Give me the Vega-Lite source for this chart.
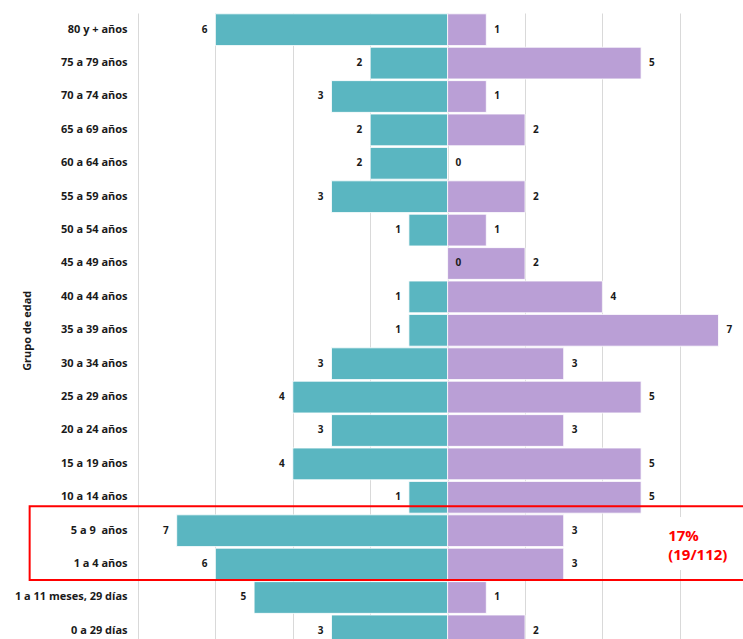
{
  "$schema": "https://vega.github.io/schema/vega-lite/v6.json",
  "autosize": {"type": "none"},
  "padding": {"left": 138, "top": 13, "right": 0, "bottom": 0},
  "width": 605,
  "height": 634.6,
  "background": "white",
  "config": {"view": {"stroke": null}, "font": "Open Sans"},
  "data": {"values": [
    {"grupo": "80 y + años", "masculino": 6, "femenino": 1},
    {"grupo": "75 a 79 años", "masculino": 2, "femenino": 5},
    {"grupo": "70 a 74 años", "masculino": 3, "femenino": 1},
    {"grupo": "65 a 69 años", "masculino": 2, "femenino": 2},
    {"grupo": "60 a 64 años", "masculino": 2, "femenino": 0},
    {"grupo": "55 a 59 años", "masculino": 3, "femenino": 2},
    {"grupo": "50 a 54 años", "masculino": 1, "femenino": 1},
    {"grupo": "45 a 49 años", "masculino": 0, "femenino": 2},
    {"grupo": "40 a 44 años", "masculino": 1, "femenino": 4},
    {"grupo": "35 a 39 años", "masculino": 1, "femenino": 7},
    {"grupo": "30 a 34 años", "masculino": 3, "femenino": 3},
    {"grupo": "25 a 29 años", "masculino": 4, "femenino": 5},
    {"grupo": "20 a 24 años", "masculino": 3, "femenino": 3},
    {"grupo": "15 a 19 años", "masculino": 4, "femenino": 5},
    {"grupo": "10 a 14 años", "masculino": 1, "femenino": 5},
    {"grupo": "5 a 9\u00a0 años", "masculino": 7, "femenino": 3},
    {"grupo": "1 a 4 años", "masculino": 6, "femenino": 3},
    {"grupo": "1 a 11 meses, 29 días", "masculino": 5, "femenino": 1},
    {"grupo": "0 a 29 días", "masculino": 3, "femenino": 2}
  ]},
  "layer": [
    {
      "layer": [
        {
          "mark": {"type": "bar", "color": "#5AB6C1", "stroke": "white", "strokeWidth": 0.8},
          "encoding": {
            "y": {
              "field": "grupo", "type": "nominal", "sort": null,
              "scale": {
                "domain": ["80 y + años", "75 a 79 años", "70 a 74 años", "65 a 69 años", "60 a 64 años", "55 a 59 años", "50 a 54 años", "45 a 49 años", "40 a 44 años", "35 a 39 años", "30 a 34 años", "25 a 29 años", "20 a 24 años", "15 a 19 años", "10 a 14 años", "5 a 9\u00a0 años", "1 a 4 años", "1 a 11 meses, 29 días", "0 a 29 días"],
                "paddingInner": 0.05, "paddingOuter": 0.025
              },
              "axis": {
                "title": "Grupo de edad", "titleFont": "Open Sans", "titleFontSize": 11, "titleFontWeight": "bold", "titleColor": "#1a1a1a",
                "titleX": -106,
                "labelFont": "Open Sans", "labelFontSize": 11, "labelFontWeight": "bold", "labelColor": "#1a1a1a",
                "labelPadding": 11, "ticks": false, "domain": false, "grid": false
              }
            },
            "x": {"field": "masculino", "type": "quantitative", "scale": {"domain": [-7.633, 8], "reverse": true, "nice": false, "zero": false}, "axis": null}
          }
        },
        {
          "transform": [{"filter": "datum.masculino > 0"}],
          "mark": {"type": "text", "align": "right", "baseline": "middle", "dx": -8, "fontSize": 10, "fontWeight": "bold", "color": "#1a1a1a"},
          "encoding": {
            "y": {"field": "grupo", "type": "nominal"},
            "x": {"field": "masculino", "type": "quantitative", "scale": {"domain": [-7.633, 8], "reverse": true, "nice": false, "zero": false}, "axis": null},
            "text": {"field": "masculino", "type": "quantitative"}
          }
        }
      ]
    },
    {
      "layer": [
        {
          "mark": {"type": "bar", "color": "#BA9FD6", "stroke": "white", "strokeWidth": 0.8},
          "encoding": {
            "y": {"field": "grupo", "type": "nominal"},
            "x": {
              "field": "femenino", "type": "quantitative",
              "scale": {"domain": [-8, 7.633], "nice": false, "zero": false},
              "axis": {"values": [-8, -6, -4, -2, 0, 2, 4, 6], "grid": true, "gridColor": "#d9d9d9", "gridWidth": 1, "labels": false, "ticks": false, "domain": false, "title": null}
            }
          }
        },
        {
          "mark": {"type": "text", "align": "left", "baseline": "middle", "dx": 8, "fontSize": 10, "fontWeight": "bold", "color": "#1a1a1a"},
          "encoding": {
            "y": {"field": "grupo", "type": "nominal"},
            "x": {"field": "femenino", "type": "quantitative"},
            "text": {"field": "femenino", "type": "quantitative"}
          }
        },
        {
          "transform": [{"filter": "datum.masculino == 0"}],
          "mark": {"type": "text", "align": "left", "baseline": "middle", "dx": 8, "fontSize": 10, "fontWeight": "bold", "color": "#1a1a1a"},
          "encoding": {
            "y": {"field": "grupo", "type": "nominal"},
            "x": {"field": "masculino", "type": "quantitative"},
            "text": {"field": "masculino", "type": "quantitative"}
          }
        },
        {
          "data": {"values": [{}]},
          "mark": {"type": "rect", "fill": "white"},
          "encoding": {
            "x": {"datum": 5.36, "type": "quantitative"},
            "x2": {"datum": 9},
            "y": {"datum": "5 a 9\u00a0 años", "type": "nominal", "bandPosition": 0.07},
            "y2": {"datum": "1 a 4 años", "bandPosition": 0.69}
          }
        },
        {
          "data": {"values": [{}]},
          "mark": {"type": "text", "text": ["17%", "(19/112)"], "align": "left", "baseline": "middle", "lineHeight": 18.5, "fontSize": 15, "fontWeight": "bold", "color": "#FF0000"},
          "encoding": {
            "x": {"datum": 5.7, "type": "quantitative"},
            "y": {"datum": "5 a 9\u00a0 años", "type": "nominal", "bandPosition": 0.67}
          }
        },
        {
          "data": {"values": [{}]},
          "mark": {"type": "rect", "fillOpacity": 0, "fill": "white", "stroke": "#FF0000", "strokeWidth": 2},
          "encoding": {
            "x": {"datum": -10.8, "type": "quantitative"},
            "x2": {"datum": 9},
            "y": {"datum": "10 a 14 años", "type": "nominal", "bandPosition": 0.78},
            "y2": {"datum": "1 a 4 años", "bandPosition": 1}
          }
        }
      ]
    }
  ],
  "resolve": {"scale": {"x": "independent"}}
}
